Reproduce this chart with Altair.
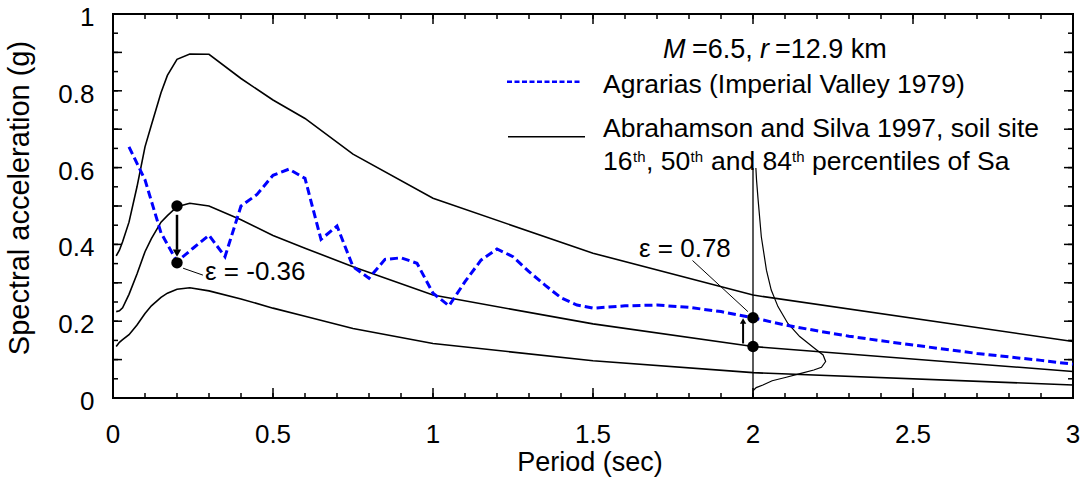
import altair as alt
import pandas as pd

FONT = "Liberation Sans"

# ---------------- data ----------------
periods = [0.01, 0.02, 0.03, 0.05, 0.075, 0.1, 0.12, 0.15, 0.17, 0.2, 0.24, 0.3,
           0.4, 0.5, 0.6, 0.75, 1.0, 1.5, 2.0, 3.0]
sa_p84 = [0.370, 0.385, 0.407, 0.458, 0.550, 0.654, 0.711, 0.795, 0.840, 0.882, 0.896, 0.895,
          0.832, 0.776, 0.728, 0.635, 0.520, 0.377, 0.268, 0.147]
sa_p50 = [0.225, 0.227, 0.235, 0.270, 0.323, 0.381, 0.415, 0.458, 0.475, 0.498, 0.507, 0.500,
          0.464, 0.423, 0.390, 0.342, 0.268, 0.193, 0.134, 0.069]
sa_p16 = [0.134, 0.145, 0.152, 0.165, 0.190, 0.220, 0.240, 0.262, 0.273, 0.283, 0.287, 0.279,
          0.258, 0.234, 0.213, 0.181, 0.142, 0.097, 0.066, 0.034]

rec_t = [0.05, 0.1, 0.15, 0.2, 0.25, 0.3, 0.35, 0.4, 0.45, 0.5, 0.55, 0.6, 0.65, 0.7, 0.75,
         0.8, 0.85, 0.9, 0.95, 1.0, 1.05, 1.1, 1.15, 1.2, 1.25, 1.3, 1.35, 1.4, 1.45, 1.5,
         1.6, 1.7, 1.8, 1.9, 2.0, 2.1, 2.2, 2.3, 2.4, 2.5, 2.6, 2.7, 2.8, 2.9, 3.0]
rec_sa = [0.654, 0.568, 0.430, 0.355, 0.390, 0.424, 0.368, 0.500, 0.530, 0.580, 0.596, 0.572,
          0.413, 0.448, 0.342, 0.312, 0.361, 0.365, 0.351, 0.273, 0.240, 0.303, 0.359, 0.388,
          0.368, 0.329, 0.294, 0.261, 0.242, 0.234, 0.240, 0.242, 0.236, 0.225, 0.209, 0.190,
          0.175, 0.161, 0.149, 0.138, 0.127, 0.116, 0.107, 0.098, 0.088]

# sideways distribution of Sa drawn at T = 2 s
pdf_t = [2.0, 2.010, 2.031, 2.060, 2.104, 2.150, 2.190, 2.214, 2.227, 2.219, 2.193, 2.146,
         2.109, 2.078, 2.057, 2.042, 2.026, 2.016, 2.011, 2.009]
pdf_sa = [0.019, 0.027, 0.034, 0.045, 0.054, 0.064, 0.073, 0.080, 0.095, 0.112, 0.129, 0.160,
          0.194, 0.238, 0.281, 0.333, 0.420, 0.516, 0.568, 0.599]

dot_t = [0.2, 0.2, 2.0, 2.0]
dot_sa = [0.500, 0.352, 0.134, 0.209]

x_labels = [0, 0.5, 1, 1.5, 2, 2.5, 3]
x_label_text = ["0", "0.5", "1", "1.5", "2", "2.5", "3"]
y_labels = [0, 0.2, 0.4, 0.6, 0.8, 1]
y_label_text = ["0", "0.2", "0.4", "0.6", "0.8", "1"]
x_minor = [i / 10 for i in range(31)]
x_major = [0, 0.5, 1.0, 1.5, 2.0, 2.5, 3.0]
y_minor = [round(i * 0.05, 2) for i in range(21)]
y_major = [round(i * 0.1, 1) for i in range(11)]

# ---------------- layout ----------------
W, H = 960, 384
LEFT, TOP = 113, 14
def PX(v):
    return v - LEFT
def PY(v):
    return v - TOP

xs = alt.Scale(domain=[0, 3], nice=False, zero=False)
ys = alt.Scale(domain=[0, 1], nice=False, zero=False)

def X(f):
    return alt.X(f, type="quantitative", scale=xs, axis=None)
def Y(f):
    return alt.Y(f, type="quantitative", scale=ys, axis=None)

curves = pd.DataFrame({
    "T": periods * 3,
    "Sa": sa_p84 + sa_p50 + sa_p16,
    "pct": ["84th"] * len(periods) + ["50th"] * len(periods) + ["16th"] * len(periods),
})

curve_layer = alt.Chart(curves).mark_line(color="black", strokeWidth=1.6).encode(
    x=X("T"), y=Y("Sa"), detail="pct:N")

rec_layer = alt.Chart(pd.DataFrame({"T": rec_t, "Sa": rec_sa})).mark_line(
    color="#0000ff", strokeWidth=3, strokeDash=[8, 4]).encode(x=X("T"), y=Y("Sa"))

vline = alt.Chart(pd.DataFrame({"T": [2.0], "y0": [0.0], "y1": [0.599]})).mark_rule(
    color="black", strokeWidth=1.3).encode(x=X("T"), y=Y("y0"), y2="y1:Q")

pdf_layer = alt.Chart(pd.DataFrame({"T": pdf_t, "Sa": pdf_sa, "i": list(range(len(pdf_t)))})).mark_line(
    color="black", strokeWidth=1.2).encode(x=X("T"), y=Y("Sa"), order="i:Q")

dots = alt.Chart(pd.DataFrame({"T": dot_t, "Sa": dot_sa})).mark_circle(
    color="black", size=130, opacity=1).encode(x=X("T"), y=Y("Sa"))

# arrows (shaft + head) from median to record
shafts = alt.Chart(pd.DataFrame({"T": [0.2, 1.969], "a": [0.477, 0.142], "b": [0.386, 0.198],
                                 "w": [2.5, 2.0]})).mark_rule(color="black").encode(
    x=X("T"), y=Y("a"), y2="b:Q", strokeWidth=alt.StrokeWidth("w:Q", scale=None, legend=None))
head_down = alt.Chart(pd.DataFrame({"T": [0.2], "Sa": [0.368]})).mark_point(
    shape="triangle-down", filled=True, color="black", size=70, opacity=1, yOffset=-3.5
).encode(x=X("T"), y=Y("Sa"))
head_up = alt.Chart(pd.DataFrame({"T": [1.969], "Sa": [0.2076]})).mark_point(
    shape="triangle-up", filled=True, color="black", size=40, opacity=1, yOffset=2.7
).encode(x=X("T"), y=Y("Sa"))

leaders = alt.Chart(pd.DataFrame({"x0": [0.219, 1.811], "x1": [0.281, 1.984],
                                  "y0": [0.338, 0.358], "y1": [0.320, 0.225]})).mark_rule(
    color="black", strokeWidth=1).encode(x=X("x0"), x2="x1:Q", y=Y("y0"), y2="y1:Q")

def label(text, x, y, size=26.5, italic=False, align="left", angle=0):
    return alt.Chart(pd.DataFrame({"t": [text]})).mark_text(
        align=align, baseline="alphabetic", font=FONT, fontSize=size, angle=angle,
        fontStyle="italic" if italic else "normal", color="black"
    ).encode(text="t:N", x=alt.value(PX(x)), y=alt.value(PY(y)))

texts = [
    label("\u03b5 = -0.36", 205, 280, size=26),
    label("\u03b5 = 0.78", 639, 256.7, size=26),
    label("M", 663, 57.7, size=27, italic=True),
    label("=6.5,", 692, 57.7, size=27),
    label("r", 760, 57.7, size=27, italic=True),
    label("=12.9 km", 775, 57.7, size=27),
    label("Agrarias (Imperial Valley 1979)", 603, 93),
    label("Abrahamson and Silva 1997, soil site", 603, 136.7),
    label("16", 603, 170),
    label("th", 633, 162, size=15),
    label(", 50", 646, 170),
    label("th", 690.5, 162, size=15),
    label("and 84", 711, 170),
    label("th", 792, 162, size=15),
    label("percentiles of Sa", 812, 170),
    label("Period (sec)", 590, 471, size=27, align="center"),
    label("Spectral acceleration (g)", 28.5, 198, size=29, align="center", angle=270),
]

# tick labels placed through the scales
xlab = alt.Chart(pd.DataFrame({"v": x_labels, "t": x_label_text})).mark_text(
    align="center", baseline="alphabetic", font=FONT, fontSize=26, color="black"
).encode(x=X("v"), y=alt.value(PY(443.3)), text="t:N")
ylab = alt.Chart(pd.DataFrame({"v": y_labels, "t": y_label_text})).mark_text(
    align="right", baseline="alphabetic", font=FONT, fontSize=26, color="black", dy=12
).encode(y=Y("v"), x=alt.value(PX(94.5)), text="t:N")

leg_blue = alt.Chart(pd.DataFrame({"k": [0]})).mark_rule(
    color="#0000ff", strokeWidth=2.5, strokeDash=[5, 2.5]).encode(
    x=alt.value(PX(507)), x2=alt.value(PX(582)), y=alt.value(PY(81.7)))
leg_black = alt.Chart(pd.DataFrame({"k": [0]})).mark_rule(
    color="black", strokeWidth=1.6).encode(
    x=alt.value(PX(508)), x2=alt.value(PX(585)), y=alt.value(PY(136.7)))

# inward ticks on all four sides
def yticks(vals, length):
    d = pd.DataFrame({"v": vals})
    left = alt.Chart(d).mark_rule(color="black", strokeWidth=1.5).encode(
        y=Y("v"), x=alt.value(0), x2=alt.value(length))
    right = alt.Chart(d).mark_rule(color="black", strokeWidth=1.5).encode(
        y=Y("v"), x=alt.value(W), x2=alt.value(W - length))
    return [left, right]

def xticks(vals, length):
    d = pd.DataFrame({"v": vals})
    bottom = alt.Chart(d).mark_rule(color="black", strokeWidth=1.5).encode(
        x=X("v"), y=alt.value(H), y2=alt.value(H - length))
    top = alt.Chart(d).mark_rule(color="black", strokeWidth=1.5).encode(
        x=X("v"), y=alt.value(0), y2=alt.value(length))
    return [bottom, top]

tick_layers = yticks(y_minor, 5) + yticks(y_major, 9) + xticks(x_minor, 5) + xticks(x_major, 10)

chart = alt.layer(
    curve_layer, vline, pdf_layer, rec_layer, shafts, head_down, head_up, leaders, dots,
    leg_blue, leg_black, xlab, ylab, *texts, *tick_layers
).properties(
    width=W, height=H,
    autosize=alt.AutoSizeParams(type="none"),
    padding={"left": LEFT, "top": TOP, "right": 1086 - LEFT - W, "bottom": 477 - TOP - H},
    background="white",
).configure_view(stroke="black", strokeWidth=2)

chart.save("out.html", embed_options={"renderer": "svg", "actions": False})
